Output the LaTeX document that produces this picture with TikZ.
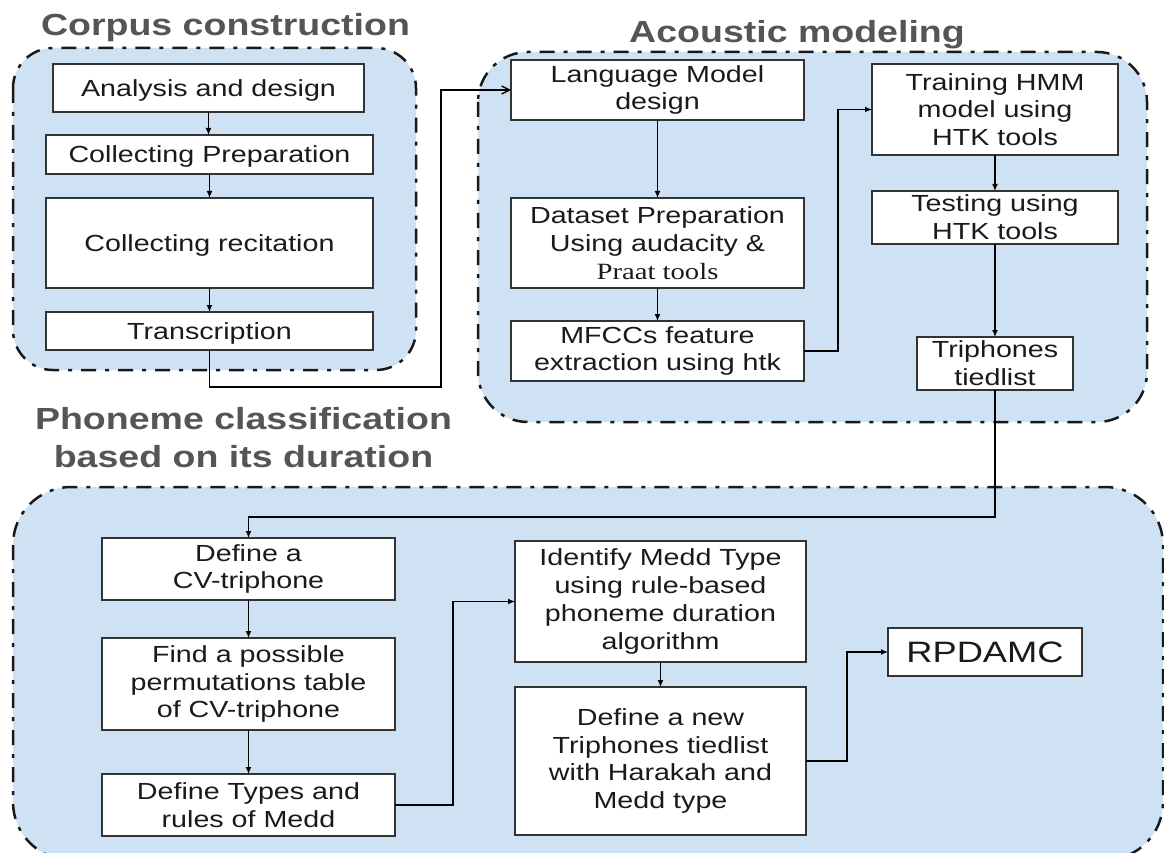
\documentclass[tikz,border=0pt]{standalone}
\usepackage{fontspec}
\setmainfont{Liberation Sans}[FakeStretch=1.23]
\newfontfamily\praatfont{Liberation Serif}[FakeStretch=1.23]
\usetikzlibrary{arrows.meta}
\definecolor{grpfill}{HTML}{CFE2F3}
\definecolor{ttl}{HTML}{555555}
\definecolor{txt}{HTML}{1A1A1A}
\definecolor{edge}{HTML}{333333}
\begin{document}
\begin{tikzpicture}[x=1pt,y=-1pt,
 grp/.style={draw=black!90, line width=2.5pt, fill=grpfill, dash pattern=on 15pt off 9pt on 4pt off 9pt},
 bbox/.style={draw=edge, line width=1.6pt, fill=white, inner sep=0pt, outer sep=0pt, align=center, text=txt, font=\fontsize{23.3}{27.8}\selectfont},
 oneline/.style={text depth=0pt},
 ttlnode/.style={text=ttl, font=\fontsize{30.5}{38}\selectfont\bfseries, anchor=base, inner sep=0pt},
 conn/.style={draw=black, line width=1.3pt, -{Latex[length=7pt,width=6pt]}},
 connopen/.style={draw=black, line width=1.3pt, -{Straight Barb[length=8pt,width=8pt]}},
]
\useasboundingbox (0,0) rectangle (1164,853);
% groups
\draw[grp, rounded corners=40pt] (13,48) rectangle (416,370);
\draw[grp, rounded corners=50pt] (478,52) rectangle (1147,422);
\draw[grp, rounded corners=58pt] (13,487) rectangle (1163,860);
% titles
\node[ttlnode] (t1) at (225.5,36) {Corpus construction};
\node[ttlnode] (t2) at (797,43) {Acoustic modeling};
\node[ttlnode] (t3a) at (243.5,429) {Phoneme classification};
\node[ttlnode] (t3b) at (243.5,467) {based on its duration};
% corpus boxes
\node[bbox, oneline, minimum width=311pt, minimum height=48pt] (ad) at (208.5,88) {Analysis and design};
\node[bbox, oneline, minimum width=327pt, minimum height=39pt] (cp) at (209.5,154.5) {Collecting Preparation};
\node[bbox, oneline, minimum width=327pt, minimum height=90pt] (cr) at (209.5,243) {Collecting recitation};
\node[bbox, oneline, minimum width=327pt, minimum height=38pt] (tr) at (209.5,331) {Transcription};
% acoustic boxes
\node[bbox, minimum width=293pt, minimum height=60pt] (lm) at (657.5,90) {Language Model\\design};
\node[bbox, minimum width=293pt, minimum height=90pt] (ds) at (657.5,243) {Dataset Preparation\\Using audacity \&\\{\praatfont Praat tools}};
\node[bbox, minimum width=293pt, minimum height=60pt] (mf) at (657.5,351) {MFCCs feature\\extraction using htk};
\node[bbox, minimum width=246pt, minimum height=91pt] (th) at (995,109.5) {Training HMM\\model using\\HTK tools};
\node[bbox, minimum width=246pt, minimum height=53pt] (te) at (995,217.5) {Testing using\\HTK tools};
\node[bbox, minimum width=156pt, minimum height=53pt] (tt) at (995,363.5) {Triphones\\tiedlist};
% phoneme boxes
\node[bbox, minimum width=293pt, minimum height=62pt] (cv) at (248.5,569) {Define a\\CV-triphone};
\node[bbox, minimum width=293pt, minimum height=92pt] (fp) at (248.5,684) {Find a possible\\permutations table\\of CV-triphone};
\node[bbox, minimum width=293pt, minimum height=62pt] (dt) at (248.5,805) {Define Types and\\rules of Medd};
\node[bbox, minimum width=291pt, minimum height=121pt] (id) at (660.5,601.5) {Identify Medd Type\\using rule-based\\phoneme duration\\algorithm};
\node[bbox, minimum width=291pt, minimum height=148pt] (dn) at (660.5,761) {Define a new\\Triphones tiedlist\\with Harakah and\\Medd type};
\node[bbox, oneline, minimum width=194pt, minimum height=48pt, font=\fontsize{29.5}{34}\selectfont] (rp) at (985,652) {RPDAMC};
% connectors
\draw[conn] (ad.south) -- (ad.south |- cp.north);
\draw[conn] (cp.south) -- (cr.north);
\draw[conn] (cr.south) -- (tr.north);
\draw[connopen] (tr.south) -- ++(0,37) -| ([xshift=-70pt]lm.west) -- (lm.west);
\draw[conn] (lm.south) -- (ds.north);
\draw[conn] (ds.south) -- (mf.north);
\draw[conn] (mf.east) -- ++(34,0) |- (th.west);
\draw[conn] (th.south) -- (te.north);
\draw[conn] (te.south) -- (tt.north);
\draw[conn] (tt.south) -- ++(0,127) -| (cv.north);
\draw[conn] (cv.south) -- (fp.north);
\draw[conn] (fp.south) -- (dt.north);
\draw[conn] (dt.east) -- ++(58,0) |- (id.west);
\draw[conn] (id.south) -- (dn.north);
\draw[conn] (dn.east) -- ++(41,0) |- (rp.west);
\end{tikzpicture}
\end{document}
